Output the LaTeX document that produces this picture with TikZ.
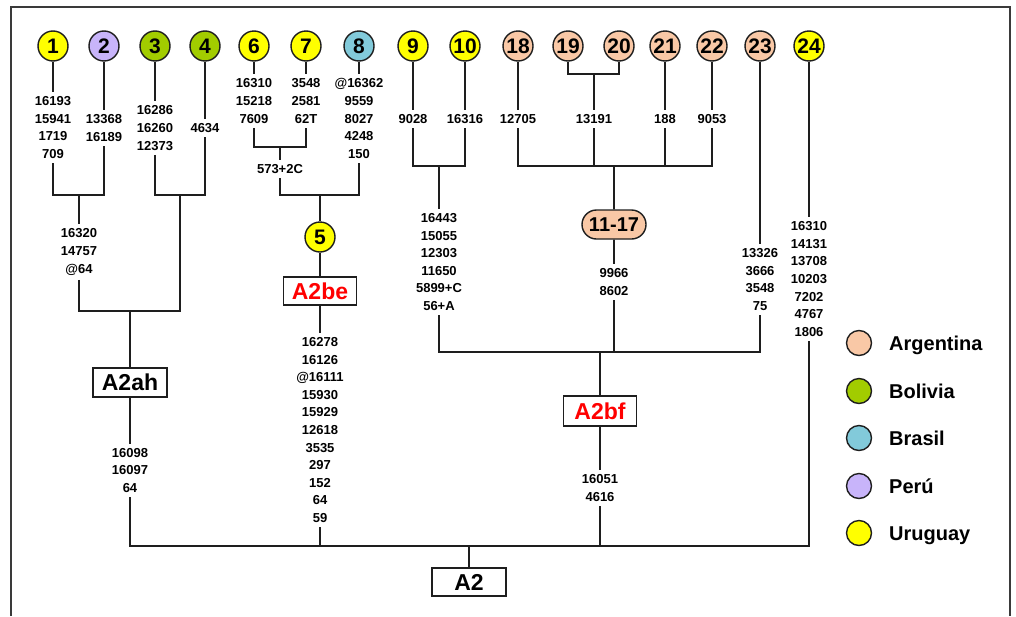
\documentclass[tikz,border=0pt]{standalone}
\usepackage{fontspec}
\setmainfont{Liberation Sans}
\definecolor{linec}{HTML}{1E1E1E}
\definecolor{framec}{HTML}{3A3A3A}
\definecolor{yel}{HTML}{FFFF00}
\definecolor{per}{HTML}{C8B4FA}
\definecolor{bol}{HTML}{A2CC00}
\definecolor{bra}{HTML}{82CADA}
\definecolor{arg}{HTML}{F9C8A6}
\definecolor{redt}{HTML}{FF0000}
\tikzset{
 ln/.style={line width=1.7pt, draw=linec},
 cnum/.style={circle, draw=linec, line width=1.4pt, minimum size=30pt, inner sep=0pt, font=\fontsize{21}{21}\selectfont\bfseries},
 muts/.style={align=center, inner sep=4.5pt, font=\fontsize{13}{17.6}\selectfont\bfseries},
 hbox/.style={draw=linec, line width=1.4pt, fill=white, inner sep=0pt, font=\fontsize{23}{23}\selectfont\bfseries},
 pill/.style={rounded rectangle, draw=linec, line width=1.4pt, fill=arg, inner sep=0pt, minimum width=64pt, minimum height=29pt, font=\fontsize{20}{20}\selectfont\bfseries},
 leg/.style={circle, draw=linec, line width=1.4pt, minimum size=25pt, inner sep=0pt},
 legt/.style={anchor=base west, inner sep=0pt, font=\fontsize{20}{20}\selectfont\bfseries},
}
\usetikzlibrary{shapes.misc}
\begin{document}
\begin{tikzpicture}[x=1pt,y=-1pt]
\useasboundingbox (0,0) rectangle (1016,616);
\fill[white] (0,0) rectangle (1016,616);
% frame
\draw[framec, line width=1.8pt] (11,616) -- (11,7) -- (1010,7) -- (1010,616);

% top circles
\node[cnum, fill=yel] (c1) at (53,46) {1};
\node[cnum, fill=per] (c2) at (104,46) {2};
\node[cnum, fill=bol] (c3) at (155,46) {3};
\node[cnum, fill=bol] (c4) at (205,46) {4};
\node[cnum, fill=yel] (c6) at (254,46) {6};
\node[cnum, fill=yel] (c7) at (306,46) {7};
\node[cnum, fill=bra] (c8) at (359,46) {8};
\node[cnum, fill=yel] (c9) at (413,46) {9};
\node[cnum, fill=yel] (c10) at (465,46) {10};
\node[cnum, fill=arg] (c18) at (518,46) {18};
\node[cnum, fill=arg] (c19) at (568,46) {19};
\node[cnum, fill=arg] (c20) at (619,46) {20};
\node[cnum, fill=arg] (c21) at (665,46) {21};
\node[cnum, fill=arg] (c22) at (712,46) {22};
\node[cnum, fill=arg] (c23) at (760,46) {23};
\node[cnum, fill=yel] (c24) at (809,46) {24};

% mutation stacks
\node[muts] (t1) at (53,127.5) {16193\\15941\\1719\\709};
\node[muts] (t2) at (104,128) {13368\\16189};
\node[muts] (t3) at (155,128) {16286\\16260\\12373};
\node[muts] (t4) at (205,128) {4634};
\node[muts] (t12) at (79,252) {16320\\14757\\@64};
\node[muts] (tah) at (130,470.5) {16098\\16097\\64};
\node[muts] (t6) at (254,101) {16310\\15218\\7609};
\node[muts] (t7) at (306,101) {3548\\2581\\62T};
\node[muts] (t67) at (280,169) {573+2C};
\node[muts] (t8) at (359,118.5) {@16362\\9559\\8027\\4248\\150};
\node[muts] (tbe) at (320,430) {16278\\16126\\@16111\\15930\\15929\\12618\\3535\\297\\152\\64\\59};
\node[muts] (t9) at (413,119) {9028};
\node[muts] (t10) at (465,119) {16316};
\node[muts] (t910) at (439,262) {16443\\15055\\12303\\11650\\5899+C\\56+A};
\node[muts] (t18) at (518,119) {12705};
\node[muts] (t1920) at (594,119) {13191};
\node[muts] (t21) at (665,119) {188};
\node[muts] (t22) at (712,119) {9053};
\node[muts] (t1117) at (614,282) {9966\\8602};
\node[muts] (t23) at (760,279.5) {13326\\3666\\3548\\75};
\node[muts] (t24) at (809,279) {16310\\14131\\13708\\10203\\7202\\4767\\1806};
\node[muts] (tbf) at (600,488) {16051\\4616};

% internal nodes
\node[cnum, fill=yel] (c5) at (320,237) {5};
\node[pill] (n1117) at (614,224.5) {11-17};
\node[hbox, minimum width=74pt, minimum height=29pt] (ah) at (130,382.5) {A2ah};
\node[hbox, minimum width=73pt, minimum height=28pt, text=redt] (be) at (320,291) {A2be};
\node[hbox, minimum width=73pt, minimum height=30pt, text=redt] (bf) at (600,411) {A2bf};
\node[hbox, minimum width=74pt, minimum height=28pt] (a2) at (469,582) {A2};

% junctions
\coordinate (j12) at (79,195);
\coordinate (j34) at (180,195);
\coordinate (j1234) at (130,311);
\coordinate (j67) at (280,147);
\coordinate (j678) at (320,195);
\coordinate (j910) at (439,166);
\coordinate (j1920) at (594,74);
\coordinate (jarg) at (614,166);
\coordinate (jbf) at (600,352);
\coordinate (ja2) at (469,546);

% A2ah clade
\draw[ln] (c1) -- (t1);
\draw[ln] (c2) -- (t2);
\draw[ln] (t1.south) |- (j12) -| (t2.south);
\draw[ln] (j12) -- (t12);
\draw[ln] (c3) -- (t3);
\draw[ln] (c4) -- (t4);
\draw[ln] (t3.south) |- (j34) -| (t4.south);
\draw[ln] (t12.south) |- (j1234) -| (j34);
\draw[ln] (j1234) -- (ah);
\draw[ln] (ah) -- (tah);

% A2be clade
\draw[ln] (c6) -- (t6);
\draw[ln] (c7) -- (t7);
\draw[ln] (t6.south) |- (j67) -| (t7.south);
\draw[ln] (j67) -- (t67);
\draw[ln] (c8) -- (t8);
\draw[ln] (t67.south) |- (j678) -| (t8.south);
\draw[ln] (j678) -- (c5);
\draw[ln] (c5) -- (be);
\draw[ln] (be) -- (tbe);

% A2bf clade
\draw[ln] (c9) -- (t9);
\draw[ln] (c10) -- (t10);
\draw[ln] (t9.south) |- (j910) -| (t10.south);
\draw[ln] (j910) -- (t910);
\draw[ln] (c18) -- (t18);
\draw[ln] (c19.south) |- (j1920) -| (c20.south);
\draw[ln] (j1920) -- (t1920);
\draw[ln] (c21) -- (t21);
\draw[ln] (c22) -- (t22);
\draw[ln] (t18.south) |- (jarg) -| (t22.south);
\draw[ln] (t1920.south) -- (t1920.south |- jarg);
\draw[ln] (t21.south) -- (t21.south |- jarg);
\draw[ln] (jarg) -- (n1117);
\draw[ln] (n1117) -- (t1117);
\draw[ln] (c23) -- (t23);
\draw[ln] (t910.south) |- (jbf) -| (t23.south);
\draw[ln] (t1117.south) -- (t1117.south |- jbf);
\draw[ln] (jbf) -- (bf);
\draw[ln] (bf) -- (tbf);

% root
\draw[ln] (c24) -- (t24);
\draw[ln] (tah.south) |- (ja2) -| (t24.south);
\draw[ln] (tbe.south) -- (tbe.south |- ja2);
\draw[ln] (tbf.south) -- (tbf.south |- ja2);
\draw[ln] (ja2) -- (a2);

% legend
\node[leg, fill=arg] (la) at (859,343) {};
\node[leg, fill=bol] (lb) at (859,391) {};
\node[leg, fill=bra] (lc) at (859,438) {};
\node[leg, fill=per] (ld) at (859,486) {};
\node[leg, fill=yel] (le) at (859,533) {};
\node[legt] (la-t) at (889,350.2) {Argentina};
\node[legt] (lb-t) at (889,398.2) {Bolivia};
\node[legt] (lc-t) at (889,445.2) {Brasil};
\node[legt] (ld-t) at (889,493.2) {Perú};
\node[legt] (le-t) at (889,540.2) {Uruguay};
\end{tikzpicture}
\end{document}
